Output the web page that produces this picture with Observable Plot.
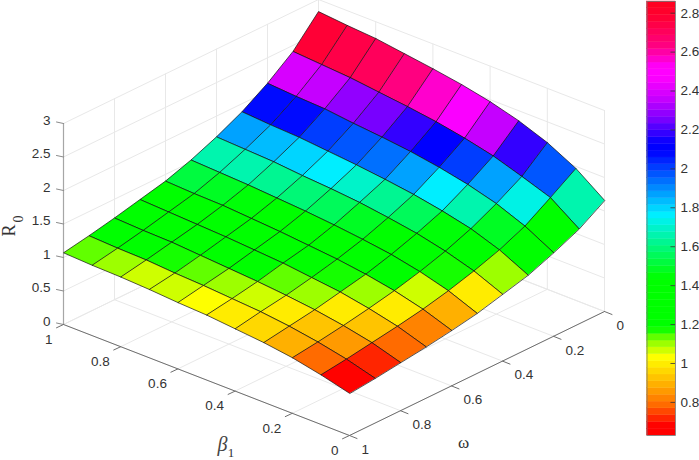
<!DOCTYPE html>
<html>
<head>
<meta charset="utf-8">
<script src="https://cdn.jsdelivr.net/npm/d3@7"></script>
<script src="https://cdn.jsdelivr.net/npm/@observablehq/plot@0.6"></script>
<style>
html,body{margin:0;padding:0;background:#fff;}
#chart{position:relative;width:699px;height:460px;overflow:hidden;}
</style>
</head>
<body>
<div id="chart"></div>
<script>
// ---- data ----
const betaValues = [0,0.1,0.2,0.3,0.4,0.5,0.6,0.7,0.8,0.9,1];
const omegaValues = [0,0.1,0.2,0.3,0.4,0.5,0.6,0.7,0.8,0.9,1];
// R0 rows by omega, columns by beta
const r0Omega00 = [1.66,1.97,2.19,2.35,2.47,2.56,2.63,2.69,2.75,2.78,2.82];
const r0Omega01 = [1.42,1.72,1.87,2.01,2.11,2.19,2.25,2.30,2.35,2.38,2.41];
const r0Omega02 = [1.25,1.48,1.65,1.77,1.86,1.93,1.98,2.02,2.07,2.09,2.12];
const r0Omega03 = [1.10,1.31,1.46,1.56,1.64,1.70,1.75,1.79,1.83,1.85,1.88];
const r0Omega04 = [1.00,1.18,1.31,1.41,1.48,1.54,1.58,1.61,1.65,1.67,1.69];
const r0Omega05 = [0.90,1.07,1.19,1.28,1.34,1.39,1.43,1.46,1.49,1.51,1.53];
const r0Omega06 = [0.83,0.98,1.09,1.17,1.23,1.27,1.31,1.34,1.37,1.38,1.40];
const r0Omega07 = [0.77,0.91,1.01,1.09,1.14,1.19,1.22,1.25,1.27,1.29,1.31];
const r0Omega08 = [0.72,0.85,0.94,1.01,1.06,1.10,1.13,1.16,1.19,1.20,1.22];
const r0Omega09 = [0.67,0.79,0.88,0.95,1.00,1.03,1.06,1.08,1.11,1.12,1.14];
const r0Omega10 = [0.63,0.74,0.83,0.89,0.93,0.97,0.99,1.02,1.04,1.05,1.07];
const r0 = [r0Omega00,r0Omega01,r0Omega02,r0Omega03,r0Omega04,r0Omega05,r0Omega06,r0Omega07,r0Omega08,r0Omega09,r0Omega10];

const betaTicks = [0,0.2,0.4,0.6,0.8,1];
const omegaTicks = [0,0.2,0.4,0.6,0.8,1];
const zTicks = [0,0.5,1,1.5,2,2.5,3];
const colorbarTicks = [0.8,1,1.2,1.4,1.6,1.8,2,2.2,2.4,2.6,2.8];

// colormap
const cmapValues = [0.63,0.68,0.79,0.88,0.95,1.03,1.12,1.18,1.44,1.76,2.09,2.13,2.19,2.25,2.35,2.47,2.52,2.63,2.78,2.86];
const cmapColors = ["#ff0000","#ff0000","#ff6e00","#ffaa00","#ffd200","#ffff00","#82ff00","#00ff00","#00ff00","#00f0ff","#0000ff","#0000ff","#3c00ff","#7800ff","#c300ff","#ff00ff","#ff00ff","#ff0082","#ff0032","#ff001e"];
const cMin = 0.63, cMax = 2.86, nBands = 64;

const ramp = d3.scaleLinear().domain(cmapValues).range(cmapColors).interpolate(d3.interpolateRgb);
const bandValue = i => cMin + (i + 0.5) * (cMax - cMin) / nBands;
const bands = d3.range(nBands).map(i => ({
  y1: cMin + i * (cMax - cMin) / nBands,
  y2: cMin + (i + 1) * (cMax - cMin) / nBands,
  v: bandValue(i)
}));
const colorScale = {
  type: "threshold",
  domain: d3.range(1, nBands).map(i => cMin + i * (cMax - cMin) / nBands),
  range: d3.range(nBands).map(i => ramp(bandValue(i)))
};

// orthographic view of the axes box
const view = {x0: 349, y0: 435, bx: -286, by: -111, ox: 255, oy: -124, zy: -67};
const px = (b, w) => view.x0 + view.bx * b + view.ox * (1 - w);
const py = (b, w, z) => view.y0 + view.by * b + view.oy * (1 - w) + view.zy * z;

// surface cells, far to near
const cells = [];
for (let j = 0; j < 10; j++) {
  for (let i = 9; i >= 0; i--) {
    const v = r0[j][i];
    const corners = [[i, j], [i + 1, j], [i + 1, j + 1], [i, j + 1]];
    for (const [a, b] of corners) {
      cells.push({id: i + "-" + j, b: betaValues[a], w: omegaValues[b], z: r0[b][a], v});
    }
  }
}

// wall and floor grid
const grid = [];
const seg = (id, a, c) => { grid.push({id, b: a[0], w: a[1], z: a[2]}); grid.push({id, b: c[0], w: c[1], z: c[2]}); };
betaTicks.forEach(b => { seg("fb" + b, [b, 0, 0], [b, 1, 0]); seg("wb" + b, [b, 0, 0], [b, 0, 3]); });
omegaTicks.forEach(w => { seg("fw" + w, [0, w, 0], [1, w, 0]); seg("ww" + w, [1, w, 0], [1, w, 3]); });
zTicks.forEach(z => { seg("zb" + z, [0, 0, z], [1, 0, z]); seg("zw" + z, [1, 0, z], [1, 1, z]); });

const X = d => px(d.b, d.w), Y = d => py(d.b, d.w, d.z);
const axisLine = (data, stroke, sw) => Plot.line(data, {x: X, y: Y, z: "id", stroke, strokeWidth: sw});

// tick segments
const tickSegs = (vals, pos, dx, dy) => vals.flatMap(v => {
  const p = pos(v);
  return [{id: v, x: p[0], y: p[1]}, {id: v, x: p[0] + dx, y: p[1] + dy}];
});
const zPos = v => [px(1, 1), py(1, 1, v)];
const bPos = v => [px(v, 1), py(v, 1, 0)];
const wPos = v => [px(0, v), py(0, v, 0)];
const tickLine = (data, stroke) => Plot.line(data, {x: "x", y: "y", z: "id", stroke, strokeWidth: 1});
const labels = (vals, pos, opts) => Plot.text(vals, {
  x: d => pos(d)[0], y: d => pos(d)[1], text: d => String(d),
  fontSize: 13.5, fill: "#333", ...opts
});

const main = Plot.plot({
  width: 699, height: 460, margin: 0,
  x: {domain: [0, 699], range: [0, 699], axis: null},
  y: {domain: [0, 460], range: [0, 460], axis: null},
  color: colorScale,
  style: {fontFamily: "'Liberation Sans', Arial, sans-serif"},
  marks: [
    axisLine(grid, "#e8e8e8", 1),
    axisLine([{id: "z", b: 1, w: 1, z: 0}, {id: "z", b: 1, w: 1, z: 3}], "#a6a6a6", 1.2),
    axisLine([{id: "b", b: 0, w: 1, z: 0}, {id: "b", b: 1, w: 1, z: 0}], "#6e6e6e", 1),
    axisLine([{id: "w", b: 0, w: 0, z: 0}, {id: "w", b: 0, w: 1, z: 0}], "#6e6e6e", 1),
    tickLine(tickSegs(zTicks, zPos, -7, -1.5), "#8a8a8a"),
    tickLine(tickSegs(betaTicks, bPos, -7, 3.3), "#6e6e6e"),
    tickLine(tickSegs(omegaTicks, wPos, 7.5, 3), "#6e6e6e"),
    Plot.line(cells, {x: X, y: Y, z: "id", fill: "v", stroke: "#111", strokeWidth: 0.7, curve: "linear-closed"}),
    labels(zTicks, zPos, {textAnchor: "end", dx: -13, dy: -3}),
    labels(betaTicks, bPos, {textAnchor: "end", dx: -11, dy: 15}),
    labels(omegaTicks, wPos, {textAnchor: "start", dx: 12, dy: 14}),
    Plot.text(["R"], {x: () => 9, y: () => 230, rotate: -90, fontFamily: "'Liberation Serif', serif", fontSize: 18, fill: "#333"}),
    Plot.text(["0"], {x: () => 18, y: () => 218.5, rotate: -90, fontFamily: "'Liberation Serif', serif", fontSize: 14, fill: "#333"}),
    Plot.text(["β"], {x: () => 222, y: () => 444, fontFamily: "'Liberation Serif', serif", fontStyle: "italic", fontSize: 20, fill: "#444"}),
    Plot.text(["1"], {x: () => 230.5, y: () => 452, fontFamily: "'Liberation Serif', serif", fontSize: 13, fill: "#333"}),
    Plot.text(["ω"], {x: () => 463, y: () => 442, fontFamily: "'Liberation Serif', serif", fontSize: 17, fill: "#333"})
  ]
});

const bar = Plot.plot({
  width: 53, height: 460,
  marginLeft: 0.5, marginRight: 24, marginTop: 1, marginBottom: 25,
  x: {domain: [0, 1], axis: null},
  y: {domain: [cMin, cMax], axis: null},
  color: colorScale,
  style: {fontFamily: "'Liberation Sans', Arial, sans-serif", position: "absolute", left: "646px", top: "0px"},
  marks: [
    Plot.rect(bands, {x1: 0, x2: 1, y1: "y1", y2: "y2", fill: "v", stroke: "v", strokeWidth: 0.4}),
    Plot.ruleY(colorbarTicks, {x1: 0.84, x2: 1, stroke: "#333", strokeWidth: 0.8}),
    Plot.frame({stroke: "#777", strokeWidth: 0.8}),
    Plot.axisY(colorbarTicks, {anchor: "right", tickSize: 0, tickPadding: 5, tickFormat: d => String(d), fontSize: 13.5, color: "#333"})
  ]
});

document.getElementById("chart").append(main, bar);
</script>
</body>
</html>
